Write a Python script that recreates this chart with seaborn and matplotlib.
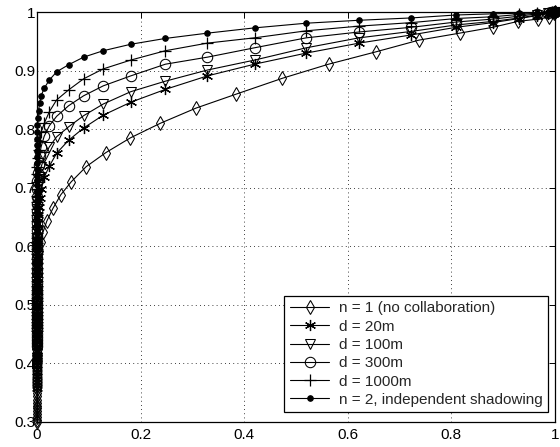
import matplotlib
matplotlib.use("Agg")
import matplotlib.pyplot as plt
import seaborn as sns

# probability pairs, highest x first
# n = 1 (single user) curve
x_single = [1.0, 0.999, 0.988, 0.967, 0.928, 0.88, 0.816, 0.737, 0.654, 0.563,
            0.474, 0.385, 0.307, 0.238, 0.18, 0.133, 0.095, 0.066, 0.046, 0.031,
            0.019, 0.012, 0.007, 0.004, 0.0025, 0.0015, 0.0009, 0.0005, 0.0003, 0.0002,
            0.0001, 0.0, 0.0, 0.0, 0.0, 0.0, 0.0, 0.0, 0.0, 0.0,
            0.0, 0.0, 0.0, 0.0, 0.0, 0.0, 0.0, 0.0, 0.0, 0.0,
            0.0, 0.0, 0.0, 0.0, 0.0, 0.0, 0.0, 0.0, 0.0, 0.0,
            0.0, 0.0]
y_single = [1.0, 0.998, 0.991, 0.988, 0.984, 0.974, 0.964, 0.952, 0.932, 0.911,
            0.887, 0.86, 0.836, 0.81, 0.785, 0.76, 0.736, 0.71, 0.688, 0.665,
            0.643, 0.625, 0.608, 0.592, 0.578, 0.565, 0.553, 0.541, 0.53, 0.519,
            0.509, 0.499, 0.489, 0.48, 0.471, 0.462, 0.454, 0.446, 0.438, 0.43,
            0.422, 0.415, 0.408, 0.401, 0.394, 0.387, 0.38, 0.374, 0.368, 0.362,
            0.356, 0.35, 0.344, 0.338, 0.333, 0.328, 0.323, 0.318, 0.313, 0.309,
            0.304, 0.3]

# the two-user curves all share these x values
x_pair = [1.0, 1.0, 0.9999, 0.999, 0.995, 0.986, 0.966, 0.931, 0.88, 0.809,
          0.723, 0.622, 0.52, 0.42, 0.329, 0.248, 0.181, 0.128, 0.09, 0.061,
          0.038, 0.024, 0.014, 0.008, 0.005, 0.003, 0.0018, 0.001, 0.0006, 0.0004,
          0.0002, 0.0, 0.0, 0.0, 0.0, 0.0, 0.0, 0.0, 0.0, 0.0,
          0.0, 0.0, 0.0, 0.0, 0.0, 0.0, 0.0, 0.0, 0.0, 0.0,
          0.0, 0.0, 0.0, 0.0, 0.0, 0.0, 0.0, 0.0, 0.0, 0.0,
          0.0, 0.0]
y_d20 = [1.0, 1.0, 0.9999, 0.9995, 0.999, 0.997, 0.994, 0.989, 0.982, 0.974,
         0.961, 0.947, 0.93, 0.911, 0.891, 0.868, 0.846, 0.824, 0.802, 0.781,
         0.759, 0.737, 0.718, 0.698, 0.682, 0.667, 0.653, 0.639, 0.626, 0.613,
         0.601, 0.589, 0.578, 0.567, 0.556, 0.546, 0.536, 0.526, 0.517, 0.508,
         0.499, 0.49, 0.482, 0.474, 0.466, 0.458, 0.45, 0.443, 0.436, 0.429,
         0.422, 0.415, 0.409, 0.403, 0.397, 0.391, 0.385, 0.379, 0.373, 0.368,
         0.363, 0.358]
y_d100 = [1.0, 1.0, 1.0, 0.9998, 0.999, 0.998, 0.995, 0.99, 0.984, 0.978,
          0.967, 0.956, 0.939, 0.918, 0.901, 0.882, 0.864, 0.843, 0.823, 0.804,
          0.787, 0.77, 0.753, 0.735, 0.719, 0.704, 0.69, 0.676, 0.663, 0.65,
          0.638, 0.626, 0.615, 0.604, 0.593, 0.583, 0.573, 0.563, 0.554, 0.545,
          0.536, 0.527, 0.519, 0.511, 0.503, 0.495, 0.487, 0.48, 0.473, 0.466,
          0.459, 0.452, 0.446, 0.44, 0.434, 0.428, 0.422, 0.416, 0.41, 0.405,
          0.4, 0.395]
y_d300 = [1.0, 1.0, 1.0, 1.0, 0.9995, 0.999, 0.997, 0.993, 0.988, 0.983,
          0.974, 0.966, 0.956, 0.939, 0.923, 0.911, 0.891, 0.874, 0.857, 0.84,
          0.822, 0.806, 0.788, 0.77, 0.754, 0.739, 0.725, 0.711, 0.698, 0.685,
          0.673, 0.661, 0.65, 0.639, 0.628, 0.618, 0.608, 0.598, 0.589, 0.58,
          0.571, 0.562, 0.554, 0.546, 0.538, 0.53, 0.522, 0.515, 0.508, 0.501,
          0.494, 0.487, 0.481, 0.475, 0.469, 0.463, 0.457, 0.451, 0.445, 0.44,
          0.435, 0.43]
y_d1000 = [1.0, 1.0, 1.0, 1.0, 1.0, 0.999, 0.998, 0.996, 0.992, 0.989,
           0.982, 0.976, 0.968, 0.956, 0.947, 0.934, 0.918, 0.903, 0.886, 0.867,
           0.85, 0.83, 0.81, 0.795, 0.779, 0.764, 0.75, 0.736, 0.723, 0.71,
           0.698, 0.686, 0.675, 0.664, 0.653, 0.643, 0.633, 0.623, 0.614, 0.605,
           0.596, 0.587, 0.579, 0.571, 0.563, 0.555, 0.547, 0.54, 0.533, 0.526,
           0.519, 0.512, 0.506, 0.5, 0.494, 0.488, 0.482, 0.476, 0.47, 0.465,
           0.46, 0.455]
y_indep = [1.0, 1.0, 1.0, 1.0, 1.0, 1.0, 0.999, 0.998, 0.997, 0.995,
           0.99, 0.986, 0.981, 0.973, 0.964, 0.955, 0.945, 0.934, 0.923, 0.91,
           0.898, 0.884, 0.87, 0.857, 0.844, 0.831, 0.819, 0.807, 0.795, 0.784,
           0.773, 0.762, 0.752, 0.742, 0.732, 0.722, 0.713, 0.704, 0.695, 0.686,
           0.677, 0.669, 0.661, 0.653, 0.645, 0.637, 0.629, 0.622, 0.615, 0.608,
           0.601, 0.594, 0.587, 0.58, 0.573, 0.567, 0.561, 0.555, 0.549, 0.543,
           0.537, 0.531]

labels = ["n = 1 (no collaboration)", "d = 20m", "d = 100m", "d = 300m",
          "d = 1000m", "n = 2, independent shadowing"]
x_ticks = [0, 0.2, 0.4, 0.6, 0.8, 1]
x_ticklabels = ["0", "0.2", "0.4", "0.6", "0.8", "1"]
y_ticks = [0.3, 0.4, 0.5, 0.6, 0.7, 0.8, 0.9, 1]
y_ticklabels = ["0.3", "0.4", "0.5", "0.6", "0.7", "0.8", "0.9", "1"]

sns.set_style("white")
plt.rcParams["font.family"] = ["Liberation Sans", "DejaVu Sans"]

fig = plt.figure(figsize=(5.6, 4.47), dpi=100)
ax = fig.add_axes([0.066, 0.056, 0.925, 0.917])

series = [
    (x_single, y_single, dict(marker="d", ms=7, mfc="none")),
    (x_pair, y_d20, dict(marker=(6, 2, 0), ms=8, mew=0.9)),
    (x_pair, y_d100, dict(marker="v", ms=7.5, mfc="none")),
    (x_pair, y_d300, dict(marker="o", ms=7.5, mfc="none")),
    (x_pair, y_d1000, dict(marker="+", ms=9, mew=0.9)),
    (x_pair, y_indep, dict(marker="o", ms=4, mfc="black")),
]
for (xs, ys, style), lab in zip(series, labels):
    sns.lineplot(x=xs, y=ys, ax=ax, sort=False, estimator=None, color="black",
                 lw=0.8, mec="black", clip_on=False, label=lab, **style)

ax.set_xlim(0, 1)
ax.set_ylim(0.3, 1)
ax.set_xticks(x_ticks, x_ticklabels)
ax.set_yticks(y_ticks, y_ticklabels)
ax.tick_params(direction="in", length=4, width=0.7, labelsize=11,
               top=True, right=True, colors="black")
ax.tick_params(axis="y", pad=1.0)
ax.tick_params(axis="x", pad=4)
ax.grid(True, color="black", linestyle=(0, (1, 4)), linewidth=0.6)
for s in ax.spines.values():
    s.set_color("black")
    s.set_linewidth(0.9)
    s.set_zorder(5)

leg = ax.legend(loc="lower right", bbox_to_anchor=(0.986, 0.024), borderaxespad=0,
                fontsize=11, labelspacing=0.28, handlelength=2.6, handletextpad=0.6,
                borderpad=0.35, fancybox=False, framealpha=1, edgecolor="black")
leg.get_frame().set_linewidth(0.9)

fig.savefig("out.png", dpi=100)
